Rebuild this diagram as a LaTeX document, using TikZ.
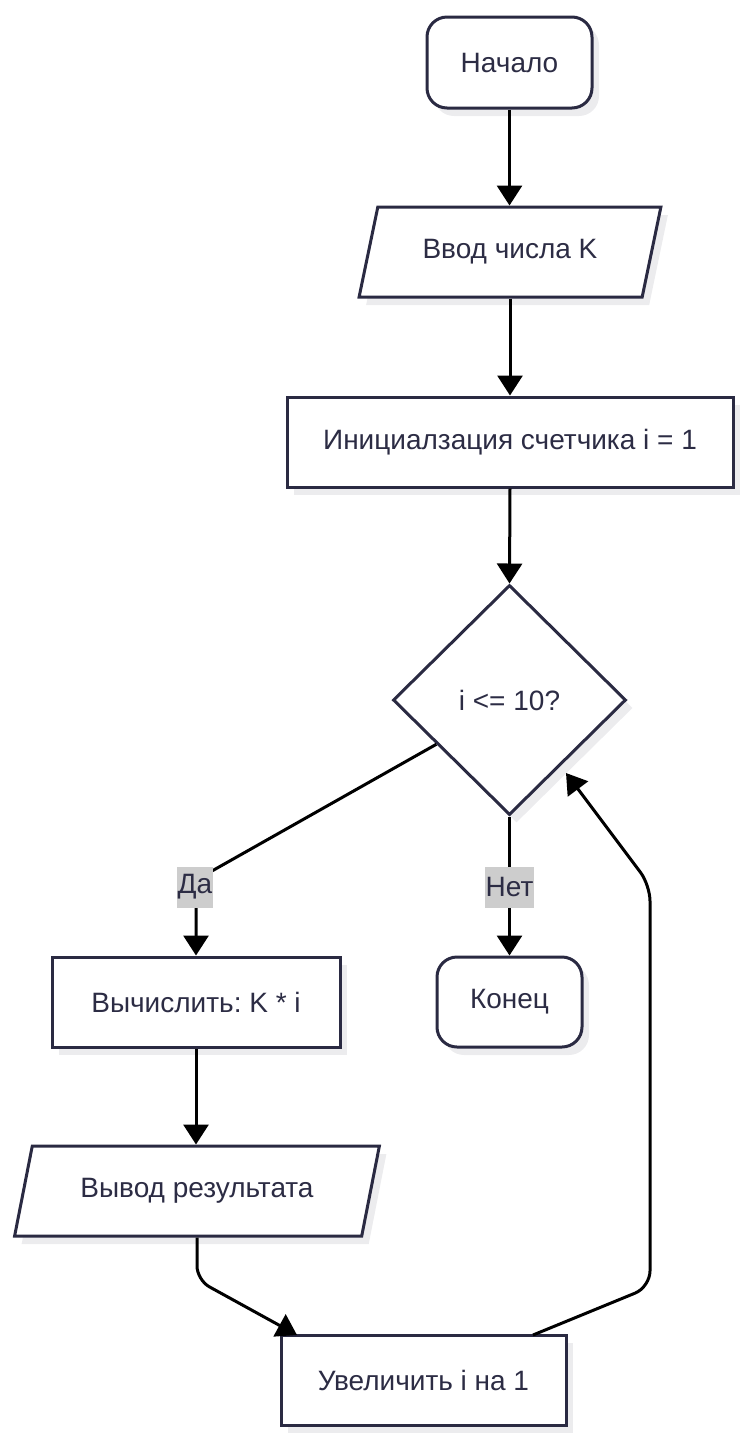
\documentclass[tikz,border=0pt]{standalone}
\usepackage{fontspec}
\setmainfont{Liberation Sans}
\frenchspacing
\usetikzlibrary{shapes.geometric,shadows,arrows.meta,calc}
\definecolor{nodeline}{RGB}{42,42,66}
\definecolor{txt}{RGB}{44,44,68}
\definecolor{shade}{RGB}{236,236,238}
\definecolor{lblbg}{RGB}{205,205,205}
\begin{document}
\begin{tikzpicture}[x=1pt,y=-1pt,
  base/.style={draw=nodeline, line width=3pt, fill=white, text=txt,
    font=\fontsize{28}{33}\selectfont, inner sep=0pt,
    drop shadow={shadow xshift=7pt, shadow yshift=-8pt, fill=shade, opacity=1}},
  boxnode/.style={base, rectangle, minimum height=90pt},
  termnode/.style={base, rectangle, rounded corners=20pt, minimum height=91pt},
  ionode/.style={base, trapezium, trapezium left angle=63.5, trapezium right angle=116.5,
    trapezium stretches=true, minimum height=90pt},
  decnode/.style={base, diamond, minimum width=233pt, minimum height=230pt},
  edge/.style={draw=black, line width=3pt, -{Triangle[length=20pt,width=25pt]}},
  lbl/.style={fill=lblbg, text=txt, font=\fontsize{28}{33}\selectfont, inner xsep=1pt, inner ysep=0pt, minimum height=41pt}
]
\useasboundingbox (0,0) rectangle (748,1444);

\node[termnode, minimum width=165pt] (start) at (509.5,62.5) {Начало};
\node[ionode, minimum width=302pt] (vvod) at (510,252) {Ввод числа K};
\node[boxnode, minimum width=446pt] (init) at (510,442) {Инициалзация счетчика i = 1};
\node[decnode] (dec) at (509.5,700) {i <= 10?};
\node[boxnode, minimum width=288pt] (calc) at (196,1002) {Вычислить: K * i};
\node[termnode, minimum width=145pt, minimum height=90pt] (end) at (509.5,1002) {Конец};
\node[ionode, minimum width=366pt] (out) at (197,1191) {Вывод результата};
\node[boxnode, minimum width=285pt] (inc) at (423.5,1380) {Увеличить i на 1};

\coordinate (daStart) at ($(dec.west)!0.38!(dec.south)$);
\coordinate (daBend) at (196,880);
\coordinate (outBend) at (197,1280);
\coordinate (incIn) at (297,1335);
\coordinate (incOut) at (533,1335);
\coordinate (loopLow) at (650,1287);
\coordinate (loopHigh) at (650,885);
\coordinate (decIn) at (566,773);

\draw[edge] (start.south) -- (start.south |- vvod.top side);
\draw[edge] (vvod.center |- vvod.bottom side) -- (init.north);
\draw[edge] (init.south) -- (dec.north);
\draw[edge, rounded corners=10pt] (daStart) -- (daBend) -- (daBend |- calc.north);
\draw[edge] (dec.south) -- (end.north);
\draw[edge] (calc.south) -- (calc.south |- out.top side);
\draw[edge, rounded corners=14pt] (out.center |- out.bottom side) -- (outBend) -- (incIn);
\draw[edge, rounded corners=16pt] (incOut) -- (loopLow) -- (loopHigh) -- (decIn);

\node[lbl] (da) at (195,887) {Да};
\node[lbl] (net) at (509.5,887) {Нет};
\end{tikzpicture}
\end{document}
